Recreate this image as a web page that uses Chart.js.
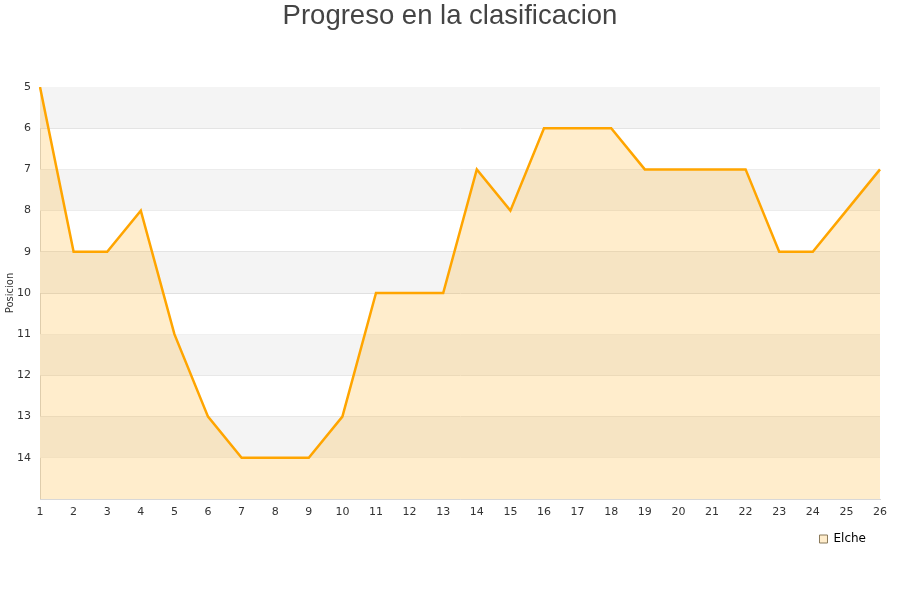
<!DOCTYPE html>
<html>
<head>
<meta charset="utf-8">
<script src="https://cdn.jsdelivr.net/npm/chart.js@4.4.0/dist/chart.umd.min.js"></script>
<style>
	html, body { margin: 0; padding: 0; background: #fff; }
	#wrap { width: 900px; height: 600px; }
</style>
</head>
<body>
<div id="wrap"><canvas id="chart"></canvas></div>
<script>
const jornadas = [1, 2, 3, 4, 5, 6, 7, 8, 9, 10, 11, 12, 13, 14, 15, 16, 17, 18, 19, 20, 21, 22, 23, 24, 25, 26];
const elche = [5, 9, 9, 8, 11, 13, 14, 14, 14, 13, 10, 10, 10, 7, 8, 6, 6, 6, 7, 7, 7, 7, 9, 9, 8, 7];
const pos_min = 5;
const pos_max = 15;

const chart_elem = document.getElementById("chart");

// grey / white stripes behind the line, one per position
let band_plugin = {
	id: 'bands',
	beforeDraw: (chart) => {
		// legend ends where the plot ends, not at the canvas edge
		chart.legend.right = chart.chartArea.right - 2;
	},
	beforeDatasetsDraw: (chart) => {
		const ctx = chart.ctx;
		const area = chart.chartArea;
		const y = chart.scales.y;
		ctx.save();
		for (let p = pos_min; p < pos_max; p += 2) {
			const top = y.getPixelForValue(p);
			const bottom = y.getPixelForValue(p + 1);
			ctx.fillStyle = "#f4f4f4";
			ctx.fillRect(area.left, top, area.right - area.left, bottom - top);
		}
		ctx.restore();
	}
};

const config = {
	type: 'line',
	data: {
		labels: jornadas,
		datasets: [
			{
				label: "Elche",
				data: elche,
				borderColor: "#FFA500",
				backgroundColor: "rgba(255, 165, 0, .2)",
				borderWidth: 2.5,
				fill: { value: pos_max },
				pointRadius: 0,
				tension: 0
			}
		]
	},
	options: {
		responsive: false,
		animation: false,
		layout: {
			padding: { left: 0, right: 0, top: 0, bottom: 45 }
		},
		plugins: {
			title: {
				display: true,
				text: "Progreso en la clasificacion",
				color: "#444",
				font: { family: "'Liberation Sans', Arial", size: 27.5, weight: 'normal' },
				padding: { top: 0, bottom: 54 }
			},
			legend: {
				position: 'bottom',
				align: 'end',
				labels: {
					boxWidth: 8,
					boxHeight: 8,
					padding: 12,
					color: "#222",
					font: { family: "'DejaVu Sans'", size: 12 },
					generateLabels: (chart) => [{
						text: "Elche",
						fillStyle: "#FFEDCC",
						strokeStyle: "#8a7a5a",
						lineWidth: 1,
						datasetIndex: 0
					}]
				}
			},
			tooltip: { enabled: false }
		},
		scales: {
			x: {
				type: 'category',
				offset: false,
				grid: { display: false, drawTicks: false },
				border: { color: "#d8d8d8" },
				ticks: {
					color: "#333",
					padding: 7,
					maxRotation: 0,
					autoSkip: false,
					font: { family: "'DejaVu Sans'", size: 11 }
				},
				afterFit: (scale) => { scale.height = 22; }
			},
			y: {
				reverse: true,
				min: pos_min,
				max: pos_max,
				grid: { color: "#e0e0e0", drawTicks: false },
				border: { color: "#d8d8d8" },
				ticks: {
					stepSize: 1,
					color: "#333",
					padding: 9,
					font: { family: "'DejaVu Sans'", size: 11 },
					callback: (v) => v === pos_max ? "" : v
				},
				title: {
					display: true,
					text: "Posicion",
					color: "#333",
					padding: { top: 4, bottom: 0 },
					font: { family: "'DejaVu Sans'", size: 10 }
				},
				afterFit: (scale) => { scale.width = 40; }
			},
			// empty right axis, only keeps a 20px margin so the title stays centred
			y_right: {
				position: 'right',
				min: pos_min,
				max: pos_max,
				grid: { display: false, drawTicks: false },
				border: { display: false },
				ticks: { display: false },
				afterFit: (scale) => { scale.width = 20; }
			}
		}
	},
	plugins: [band_plugin]
};

chart_elem.width = 900;
chart_elem.height = 600;
new Chart(chart_elem, config);
</script>
</body>
</html>
